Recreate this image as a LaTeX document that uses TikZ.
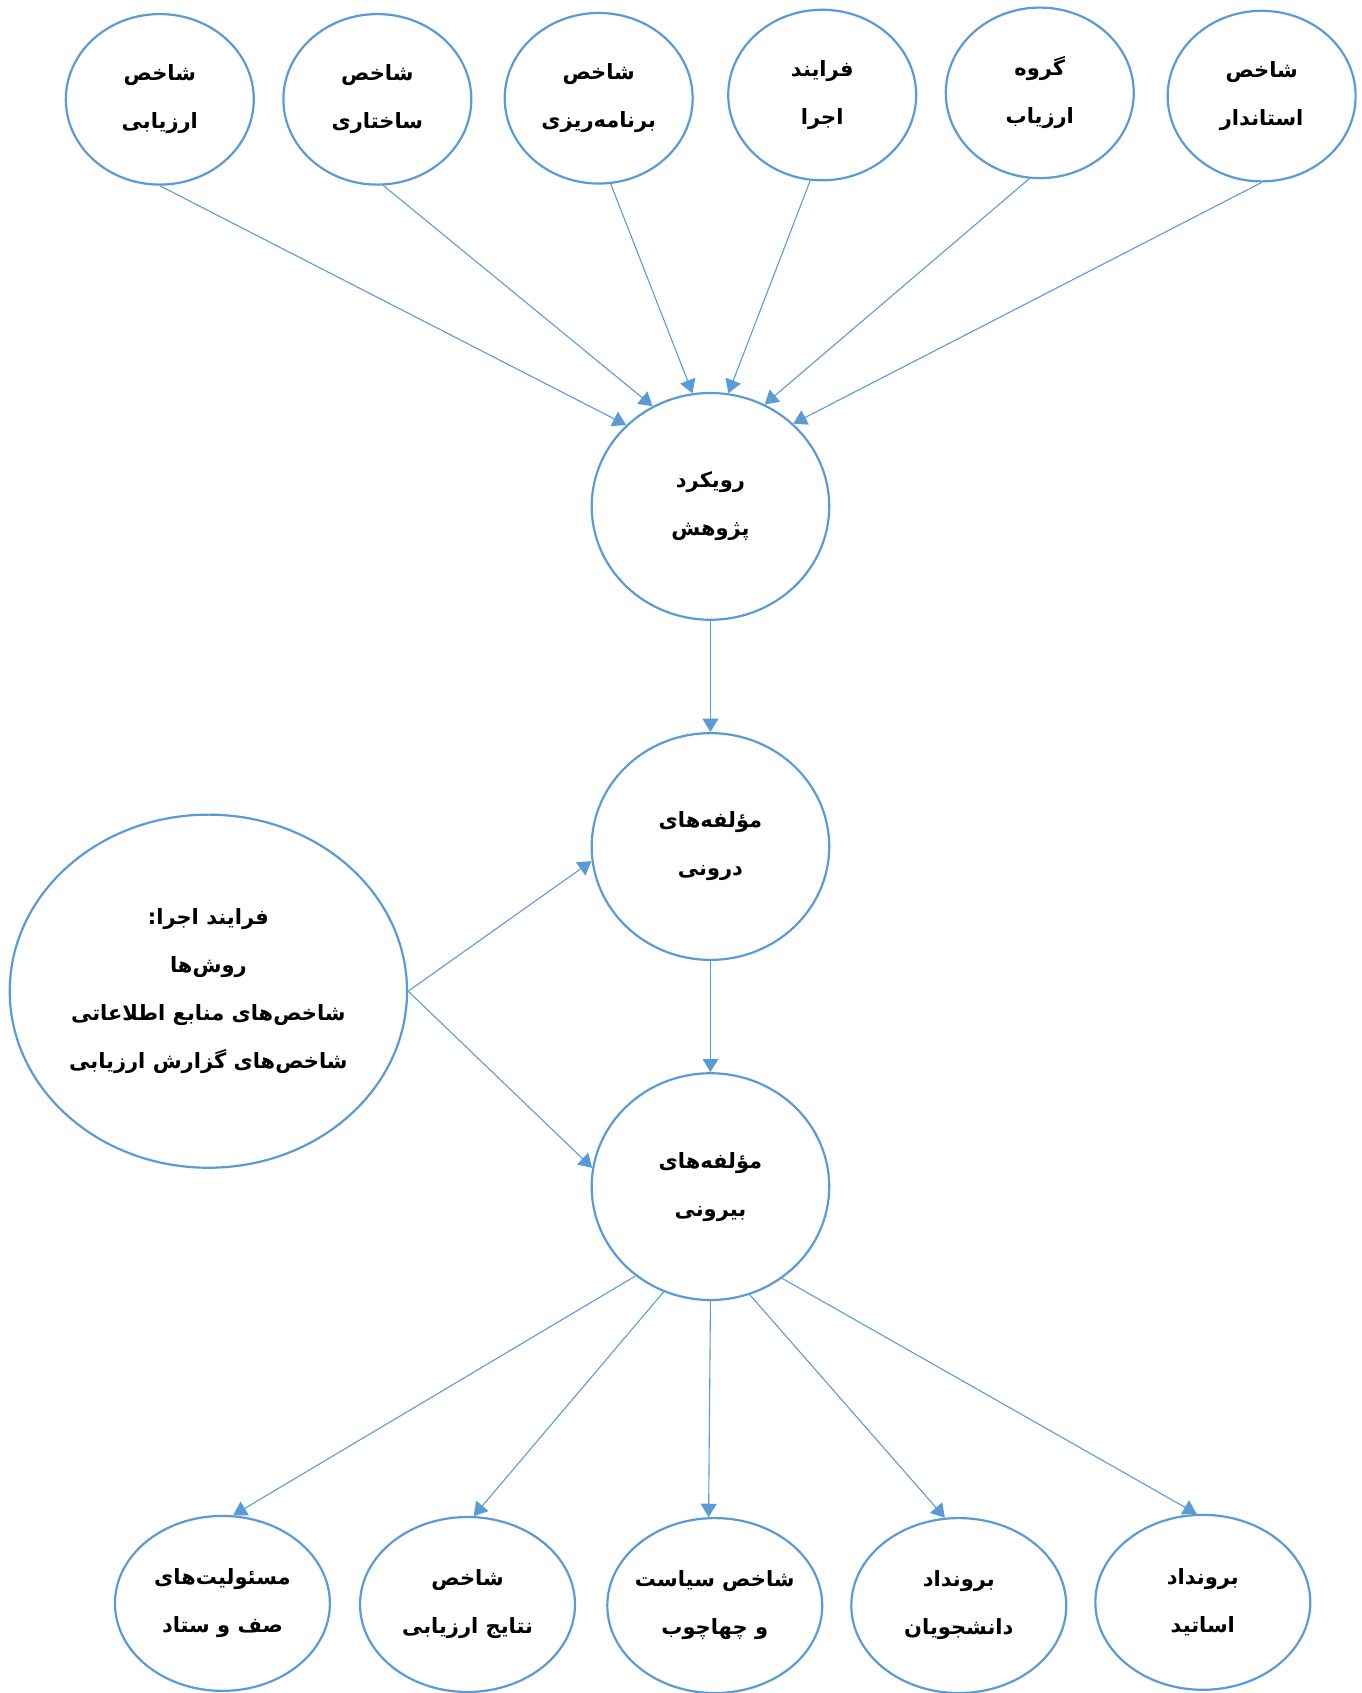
\documentclass[tikz,border=0pt]{standalone}
\usepackage{fontspec}
\newfontfamily\arabicfont[Script=Arabic]{DejaVu Sans}
\TeXXeTstate=1
\usetikzlibrary{shapes.geometric,arrows.meta}
\definecolor{lineblue}{RGB}{91,155,213}
\newcommand{\fa}[1]{\beginR #1\endR}
\tikzset{
  ell/.style={ellipse,draw=lineblue,line width=1.1pt,align=center,inner sep=-5pt,
    font=\arabicfont\bfseries\fontsize{10.5}{24}\selectfont},
  topell/.style={ell,minimum width=94pt,minimum height=85.3pt},
  midell/.style={ell,minimum width=118.8pt,minimum height=113.4pt},
  bigell/.style={ell,minimum width=198.7pt,minimum height=176.6pt},
  botell/.style={ell,minimum width=107.5pt,minimum height=87.5pt},
  arr/.style={draw=lineblue,line width=0.55pt,-{Triangle[length=6.7pt,width=8pt]}}
}
\begin{document}
\begin{tikzpicture}[x=0.54pt,y=0.54pt,yscale=-1]
\useasboundingbox (0,0) rectangle (1261,1568);

% top row
\node[topell] (evalind) at (148,92) {\fa{شاخص}\\\fa{ارزیابی}};
\node[topell] (structind) at (349.5,92) {\fa{شاخص}\\\fa{ساختاری}};
\node[topell] (planind) at (554.5,91) {\fa{شاخص}\\\fa{برنامه^^^^200cریزی}};
\node[topell] (process) at (761.5,88) {\fa{فرایند}\\\fa{اجرا}};
\node[topell] (evalgroup) at (963,86) {\fa{گروه}\\\fa{ارزیاب}};
\node[topell] (stdind) at (1168.5,89) {\fa{شاخص}\\\fa{استاندار}};

% middle column
\node[midell] (approach) at (658,469) {\fa{رویکرد}\\\fa{پژوهش}};
\node[midell] (internal) at (658,784) {\fa{مؤلفه^^^^200cهای}\\\fa{درونی}};
\node[midell] (external) at (658,1099) {\fa{مؤلفه^^^^200cهای}\\\fa{بیرونی}};
\node[bigell] (method) at (193,918) {\fa{فرایند اجرا:}\\\fa{روش^^^^200cها}\\\fa{شاخص^^^^200cهای منابع اطلاعاتی}\\\fa{شاخص^^^^200cهای گزارش ارزیابی}};

% bottom row
\node[botell] (duties) at (206,1485) {\fa{مسئولیت^^^^200cهای}\\\fa{صف و ستاد}};
\node[botell] (results) at (433,1486) {\fa{شاخص}\\\fa{نتایج ارزیابی}};
\node[botell] (policy) at (662,1487) {\fa{شاخص سیاست}\\\fa{و چهاچوب}};
\node[botell] (students) at (888,1487) {\fa{برونداد}\\\fa{دانشجویان}};
\node[botell] (faculty) at (1114,1484) {\fa{برونداد}\\\fa{اساتید}};

% connectors
\draw[arr] (evalind.south) -- (approach.136);
\draw[arr] (structind.274) -- (approach.120);
\draw[arr] (planind.278) -- (approach.99);
\draw[arr] (process.262) -- (approach.81);
\draw[arr] (evalgroup.263) -- (approach.62);
\draw[arr] (stdind.south) -- (approach.45);
\draw[arr] (approach.south) -- (internal.north);
\draw[arr] (internal.south) -- (external.north);
\draw[arr] (method.east) -- (internal.187);
\draw[arr] (method.east) -- (external.171);
\draw[arr] (external.230) -- (duties.83);
\draw[arr] (external.246) -- (results.86);
\draw[arr] (external.south) -- (policy.94);
\draw[arr] (external.290) -- (students.99);
\draw[arr] (external.308) -- (faculty.94);
\end{tikzpicture}
\end{document}
